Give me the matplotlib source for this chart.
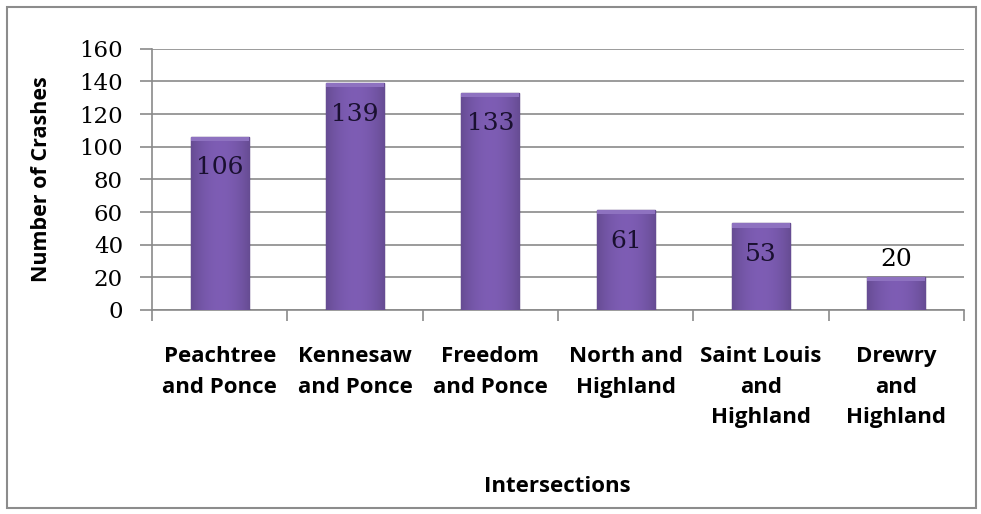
import numpy as np
import matplotlib.pyplot as plt
from matplotlib.patches import Rectangle

categories = ["Peachtree\nand Ponce", "Kennesaw\nand Ponce", "Freedom\nand Ponce",
              "North and\nHighland", "Saint Louis\nand\nHighland", "Drewry\nand\nHighland"]
crashes = [106, 139, 133, 61, 53, 20]
yticks = [0, 20, 40, 60, 80, 100, 120, 140, 160]

fig = plt.figure(figsize=(9.81, 5.14), dpi=100)
fig.patches.append(Rectangle((0.007, 0.012), 0.988, 0.975, transform=fig.transFigure,
                             fill=False, edgecolor='#8c8c8c', linewidth=1.5))
ax = fig.add_axes([0.155, 0.397, 0.8277, 0.508])

x = np.arange(len(crashes))
w = 0.43
bars = ax.bar(x, crashes, width=w, color='#7656a8', edgecolor='#4a2f73', linewidth=1.0, zorder=3)

# horizontal shading across each bar
grad = np.linspace(0, 1, 64)
shade = 1 - 0.55 * (2 * grad - 1) ** 2
rgb = np.array([0.46, 0.34, 0.66])
img = np.clip(rgb[None, None, :] * (0.72 + 0.35 * shade[None, :, None]), 0, 1)
for b in bars:
    x0, y0, bw, bh = b.get_x(), b.get_y(), b.get_width(), b.get_height()
    im = ax.imshow(img, extent=[x0, x0 + bw, y0, y0 + bh], aspect='auto', zorder=3.5)
    im.set_clip_path(b)
    # top bevel
    ax.add_patch(Rectangle((x0, y0 + bh - 2.5), bw, 2.5, facecolor='#8e72c0', edgecolor='none', zorder=3.6))

for xi, v in zip(x, crashes):
    if v > 30:
        ax.text(xi, v - 19, str(v), ha='center', va='center', fontsize=18,
                family='DejaVu Serif', color='#1a1030', zorder=5)
    else:
        ax.text(xi, v + 11, str(v), ha='center', va='center', fontsize=18,
                family='DejaVu Serif', color='black', zorder=5)

ax.set_xlim(-0.5, len(crashes) - 0.5)
ax.set_ylim(0, 160)
ax.set_yticks(yticks)
ax.set_yticklabels([str(t) for t in yticks], family='DejaVu Serif', fontsize=16.5)
ax.yaxis.grid(True, color='#8a8a8a', linewidth=1.2, zorder=0)
ax.set_axisbelow(True)

ax.set_xticks(x)
ax.set_xticklabels(categories, fontsize=16, family='Open Sans', fontweight='bold', linespacing=1.6)
ax.set_xticks(np.arange(len(crashes) + 1) - 0.5, minor=True)
ax.tick_params(axis='x', which='major', length=0, pad=26)
ax.tick_params(axis='x', which='minor', length=8, color='#8a8a8a', width=1.2)
ax.tick_params(axis='y', length=9, color='#8a8a8a', width=1.2, pad=12)

for s in ['top', 'right']:
    ax.spines[s].set_visible(False)
for s in ['left', 'bottom']:
    ax.spines[s].set_color('#8a8a8a')
    ax.spines[s].set_linewidth(1.2)

ax.set_ylabel("Number of Crashes", fontsize=15.5, family='Open Sans', fontweight='bold')
ax.yaxis.set_label_coords(-0.123, 0.5)
fig.text(0.568, 0.054, "Intersections", ha='center', va='center', fontsize=16,
         family='Open Sans', fontweight='bold')

fig.savefig("out.png", dpi=100)
